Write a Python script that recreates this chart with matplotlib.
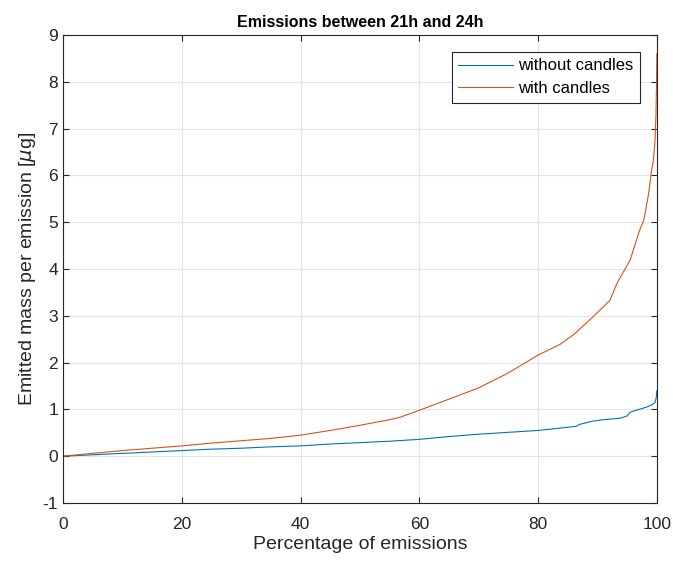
import matplotlib
matplotlib.use("Agg")
import matplotlib.pyplot as plt

# values (percentage of emissions -> emitted mass in ug)
pct_without = [0, 5, 10, 15, 20, 25, 30, 35, 40, 45, 50, 55, 60, 65, 70, 75,
               80, 83.7, 86.5, 87, 89.2, 91, 93.8, 95, 95.5, 97, 98.3, 99.2,
               99.7, 99.9, 100]
mass_without = [0, 0.03, 0.06, 0.09, 0.12, 0.15, 0.17, 0.2, 0.22, 0.26, 0.29,
                0.32, 0.36, 0.42, 0.47, 0.51, 0.55, 0.6, 0.64, 0.68, 0.75, 0.78,
                0.81, 0.86, 0.94, 1.0, 1.05, 1.1, 1.15, 1.25, 1.4]

pct_with = [0, 5, 10, 15, 20, 25, 30, 35, 40, 45, 50, 55, 56.7, 60, 65, 70,
            75, 80, 83.7, 86, 89.2, 90.4, 92.1, 93.3, 95.5, 97.1, 97.8, 98.6,
            99.1, 99.4, 99.7, 99.85, 99.95, 100]
mass_with = [0, 0.06, 0.12, 0.17, 0.22, 0.28, 0.33, 0.38, 0.45, 0.55, 0.66,
             0.78, 0.83, 0.98, 1.22, 1.46, 1.78, 2.16, 2.39, 2.6, 2.97, 3.12,
             3.33, 3.7, 4.19, 4.83, 5.04, 5.6, 6.1, 6.3, 6.75, 7.3, 8.0, 8.6]

plt.rcParams["font.family"] = ["Liberation Sans", "DejaVu Sans"]
plt.rcParams["axes.unicode_minus"] = False  # matlab-style "-1"

fig = plt.figure(figsize=(6.73, 5.63), dpi=100)
ax = fig.add_axes([0.0936, 0.1066, 0.8824, 0.8312])

ax.plot(pct_without, mass_without, color="#0072BD", lw=0.8, label="without candles")
ax.plot(pct_with, mass_with, color="#D95319", lw=0.8, label="with candles")

ax.set_xlim(0, 100)
ax.set_ylim(-1, 9)
ax.set_xticks(range(0, 101, 20))
ax.set_yticks(range(-1, 10))
ax.grid(True, color="#e3e3e3", lw=0.8)
ax.set_axisbelow(True)
ax.tick_params(direction="in", top=True, right=True, labelsize=12.5,
               colors="#262626", length=4)
ax.tick_params(axis="x", pad=10)
for s in ax.spines.values():
    s.set_color("#262626")
    s.set_linewidth(0.8)

ax.set_title("Emissions between 21h and 24h", fontsize=11.5, fontweight="bold")
ax.set_xlabel("Percentage of emissions", fontsize=14, color="#262626", labelpad=3)
ax.set_ylabel(r"Emitted mass per emission [$\mu$g]", fontsize=14,
              color="#262626", labelpad=3)

leg = ax.legend(loc="upper right", fontsize=12, fancybox=False, framealpha=1,
                edgecolor="#262626", handlelength=3.3, handletextpad=0.3,
                borderaxespad=1.0, borderpad=0.4, labelspacing=0.45)
leg.get_frame().set_linewidth(0.8)

fig.savefig("out.png", dpi=100)
